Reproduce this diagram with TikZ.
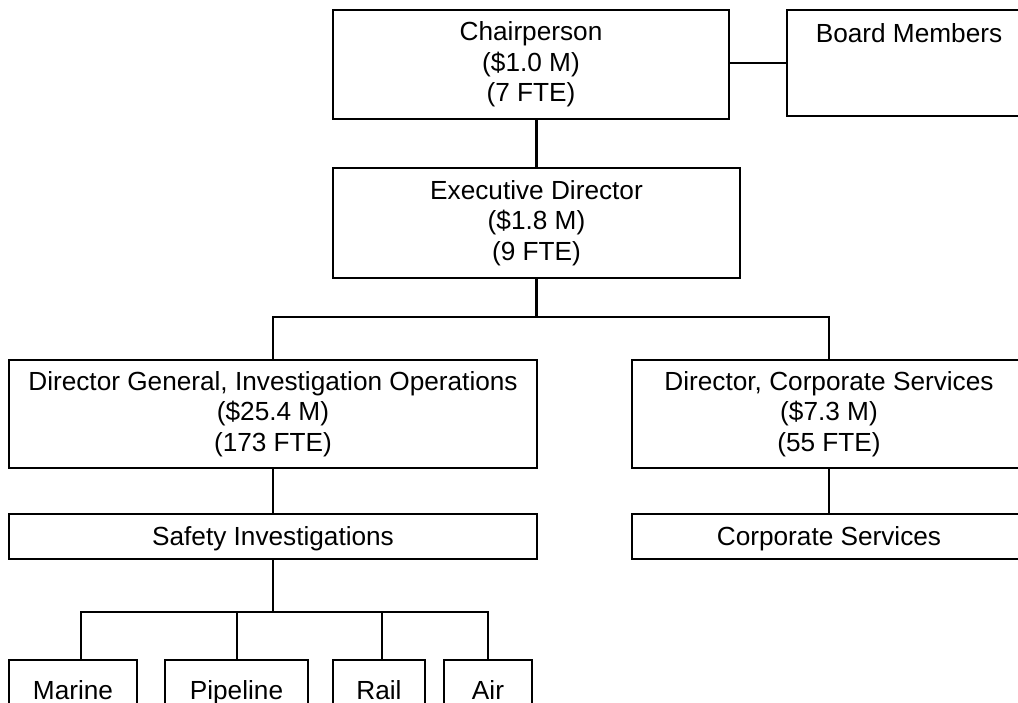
\documentclass[tikz,border=0pt]{standalone}
\usepackage{fontspec}
\setmainfont{Liberation Sans}
\begin{document}
\begin{tikzpicture}[x=1pt,y=-1pt,
  txt/.style={font=\fontsize{26.2}{30.4}\selectfont},
  box/.style={draw, line width=2.7pt, rectangle, inner sep=0pt, outer sep=0pt, align=center, txt},
  one/.style={text height=18.8pt, text depth=0pt},
  conn/.style={line width=2.7pt}]
\useasboundingbox (0,0) rectangle (1018,702);
\clip (0,0) rectangle (1018,702);
% boxes
\node[box, minimum width=396pt, minimum height=109pt] (chair) at (531,64.5) {Chairperson\\(\$1.0 M)\\(7 FTE)};
\node[box, minimum width=244pt, minimum height=106pt] (bm) at (909,63) {};
\node[txt, anchor=base] (bmt) at ([yshift=-32pt]bm.north) {Board Members};
\node[box, minimum width=407pt, minimum height=110pt] (exec) at (536.5,223) {Executive Director\\(\$1.8 M)\\(9 FTE)};
\node[box, minimum width=528pt, minimum height=108pt] (dgio) at (273,414) {Director General, Investigation Operations\\(\$25.4 M)\\(173 FTE)};
\node[box, minimum width=394pt, minimum height=108pt] (dcs) at (829,414) {Director, Corporate Services\\(\$7.3 M)\\(55 FTE)};
\node[box, one, minimum width=528pt, minimum height=45pt] (safety) at (273,536.5) {Safety Investigations};
\node[box, one, minimum width=394pt, minimum height=45pt] (corp) at (829,536.5) {Corporate Services};
\node[box, one, minimum width=128pt, minimum height=60pt] (marine) at (73,690) {Marine};
\node[box, one, minimum width=143pt, minimum height=60pt] (pipe) at (236.5,690) {Pipeline};
\node[box, one, minimum width=92pt, minimum height=60pt] (rail) at (379,690) {Rail};
\node[box, one, minimum width=88pt, minimum height=60pt] (air) at (488,690) {Air};
% connectors
\draw[conn] (bm.west) -- (bm.west -| chair.east);
\draw[conn] (chair.south -| exec.north) -- (exec.north);
\draw[conn] (exec.south) -- ++(0,39) coordinate (j1);
\draw[conn] (dgio.north) |- (j1) -| (dcs.north);
\draw[conn] (dgio.south) -- (safety.north);
\draw[conn] (dcs.south) -- (corp.north);
\draw[conn] (safety.south) -- ++(0,53) coordinate (j2);
\coordinate (b1) at (81,612);
\coordinate (b2) at (237,612);
\coordinate (b3) at (382,612);
\coordinate (b4) at (488,612);
\draw[conn] (b1 |- marine.north) -- (b1) -- (b4) -- (air.north);
\draw[conn] (b2) -- (b2 |- pipe.north);
\draw[conn] (b3) -- (b3 |- rail.north);
\end{tikzpicture}
\end{document}
